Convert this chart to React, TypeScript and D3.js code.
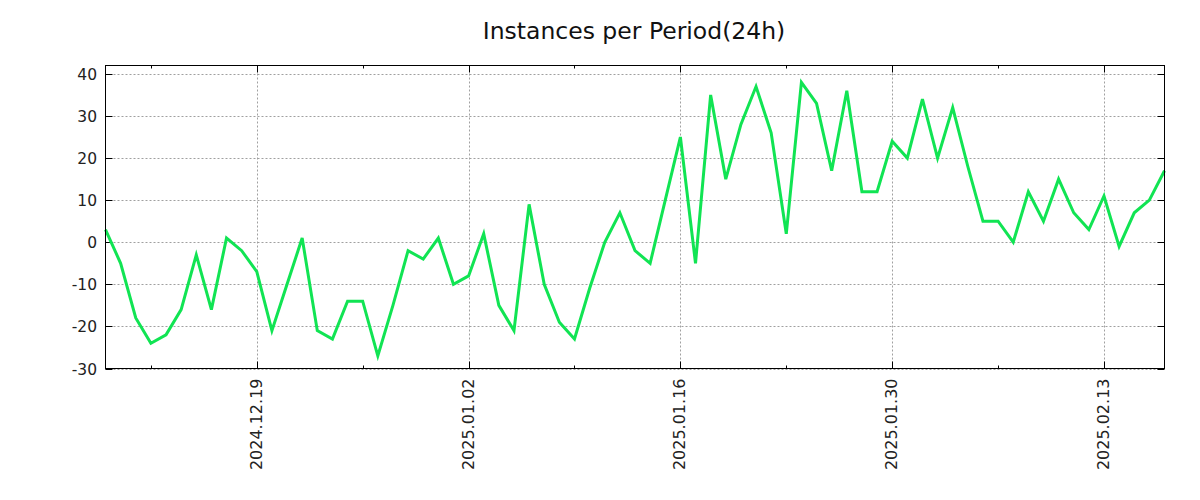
import React from "react";
import * as d3 from "d3";

const startDate = "2024-12-09";
const endDate = "2025-02-18";
const values = [
  3, -5, -18, -24, -22, -16, -3, -16, 1, -2,
  -7, -21, -10, 1, -21, -23, -14, -14, -27, -15,
  -2, -4, 1, -10, -8, 2, -15, -21, 9, -10,
  -19, -23, -11, 0, 7, -2, -5, 10, 25, -5,
  35, 15, 28, 37, 26, 2, 38, 33, 17, 36,
  12, 12, 24, 20, 34, 20, 32, 18, 5, 5,
  0, 12, 5, 15, 7, 3, 11, -1, 7, 10,
  17,
];
const majorTicks = ["2024-12-19", "2025-01-02", "2025-01-16", "2025-01-30", "2025-02-13"];
const minorTicks = ["2024-12-12", "2024-12-26", "2025-01-09", "2025-01-23", "2025-02-06"];
const yTicks = [-30, -20, -10, 0, 10, 20, 30, 40];
const title = "Instances per Period(24h)";

const parse = d3.utcParse("%Y-%m-%d");
const fmt = d3.utcFormat("%Y.%m.%d");

export default function App() {
  const W = 1200, H = 500;
  const L = 105.5, R = 1164.5, T = 65.5, B = 368.5;
  const dates = d3.utcDay.range(parse(startDate)!, parse(endDate)!);
  const x = d3.scaleUtc().domain([dates[0], dates[dates.length - 1]]).range([L, R]);
  const y = d3.scaleLinear().domain([-30, 42]).range([B, T]);
  const data = values.map((v, i) => ({ d: dates[i], v }));
  const line = d3.line<{ d: Date; v: number }>().x(p => x(p.d)).y(p => y(p.v));
  const font = "'DejaVu Sans', sans-serif";
  return (
    <svg width={W} height={H} style={{ position: "absolute", left: 0, top: 0, background: "#fff" }}>
      <text x={634} y={39} textAnchor="middle" fontFamily={font} fontSize={23.5} fill="#111">{title}</text>
      {yTicks.map(t => (
        <line key={"gy" + t} x1={L} x2={R} y1={Math.round(y(t)) + 0.5} y2={Math.round(y(t)) + 0.5}
          stroke="#a0a0a0" strokeWidth={1} strokeDasharray="2,2" />
      ))}
      {majorTicks.map(t => {
        const xx = Math.round(x(parse(t)!)) + 0.5;
        return <line key={"gx" + t} x1={xx} x2={xx} y1={T} y2={B} stroke="#a0a0a0" strokeWidth={1} strokeDasharray="2,2" />;
      })}
      {yTicks.map(t => {
        const yy = Math.round(y(t)) + 0.5;
        return (
          <g key={"ty" + t}>
            <line x1={L} x2={L + 7} y1={yy} y2={yy} stroke="#000" />
            <line x1={R - 7} x2={R} y1={yy} y2={yy} stroke="#000" />
            <text x={97} y={yy + 5} textAnchor="end" fontFamily={font} fontSize={15.5} fill="#222">{t}</text>
          </g>
        );
      })}
      {majorTicks.map(t => {
        const xx = Math.round(x(parse(t)!)) + 0.5;
        return (
          <g key={"tx" + t}>
            <line x1={xx} x2={xx} y1={B - 7} y2={B} stroke="#000" />
            <line x1={xx} x2={xx} y1={T} y2={T + 7} stroke="#000" />
            <text transform={`translate(${xx + 4},${B + 10}) rotate(-90)`} textAnchor="end"
              fontFamily={font} fontSize={16} fill="#222">{fmt(parse(t)!)}</text>
          </g>
        );
      })}
      {minorTicks.map(t => {
        const xx = Math.round(x(parse(t)!)) + 0.5;
        return (
          <g key={"mx" + t}>
            <line x1={xx} x2={xx} y1={B - 3} y2={B} stroke="#000" />
            <line x1={xx} x2={xx} y1={T} y2={T + 3} stroke="#000" />
          </g>
        );
      })}
      <path d={line(data)!} fill="none" stroke="#11e453" strokeWidth={3} strokeLinejoin="miter" />
      <rect x={L} y={T} width={R - L} height={B - T} fill="none" stroke="#000" strokeWidth={1} />
    </svg>
  );
}
